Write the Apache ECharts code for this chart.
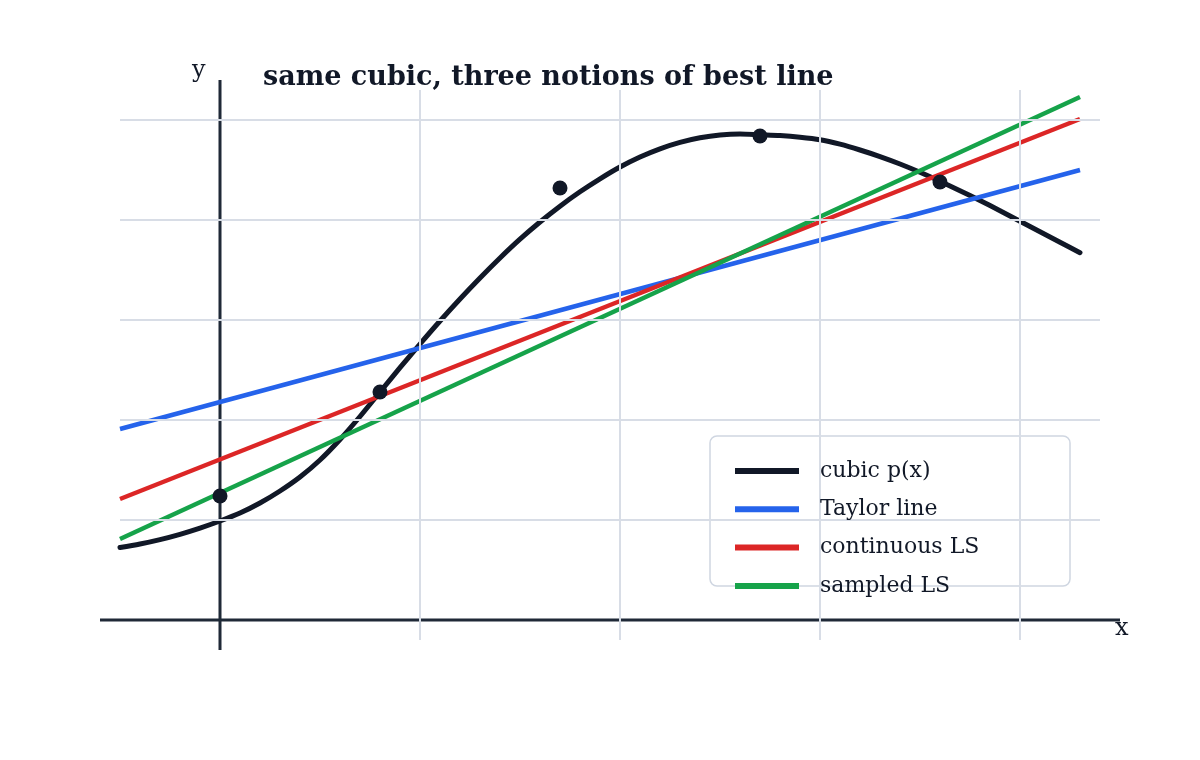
<!DOCTYPE html>
<html>
<head>
<meta charset="utf-8">
<script src="https://cdn.jsdelivr.net/npm/echarts@6/dist/echarts.min.js"></script>
<style>
html,body{margin:0;padding:0;background:#fff;}
#chart{width:1200px;height:760px;}
</style>
</head>
<body>
<div id="chart"></div>
<script>
// ---- data ----
const titleText = "same cubic, three notions of best line";
const seriesNames = ["cubic p(x)", "Taylor line", "continuous LS", "sampled LS"];
const cubicCurve = [
  [-0.5, 0.725], [-0.4, 0.76], [-0.3, 0.804], [-0.2, 0.857], [-0.1, 0.919],
  [0.0, 0.99], [0.1, 1.07], [0.2, 1.17], [0.3, 1.29], [0.4, 1.43],
  [0.5, 1.60], [0.6, 1.805], [0.7, 2.035], [0.8, 2.28], [0.9, 2.523],
  [1.0, 2.76], [1.1, 2.99], [1.2, 3.21], [1.3, 3.42], [1.4, 3.62],
  [1.5, 3.808], [1.6, 3.98], [1.7, 4.138], [1.8, 4.282], [1.9, 4.412],
  [2.0, 4.53], [2.1, 4.63], [2.2, 4.712], [2.3, 4.776], [2.4, 4.822],
  [2.5, 4.85], [2.6, 4.86], [2.7, 4.852], [2.8, 4.844], [2.9, 4.828],
  [3.0, 4.803], [3.1, 4.758], [3.2, 4.70], [3.3, 4.634], [3.4, 4.56],
  [3.5, 4.477], [3.6, 4.387], [3.7, 4.293], [3.8, 4.195], [3.9, 4.093],
  [4.0, 3.988], [4.1, 3.883], [4.2, 3.778], [4.3, 3.673]
];
const taylorLine = [[-0.5, 1.91], [4.3, 4.50]];
const continuousLS = [[-0.5, 1.21], [4.3, 5.01]];
const sampledLS = [[-0.5, 0.81], [4.3, 5.23]];
const samplePoints = [[0.0, 1.24], [0.8, 2.28], [1.7, 4.32], [2.7, 4.84], [3.6, 4.38]];
const gridXValues = [1, 2, 3, 4];
const gridYValues = [1, 2, 3, 4, 5];
const axisSegments = [[-0.6, 0, 4.5, 0], [0, -0.3, 0, 5.4]];
const xRange = [-0.5, 4.4];
const yRange = [-0.2, 5.3];

const colors = { cubic: "#111827", taylor: "#2563eb", cont: "#dc2626", samp: "#16a34a", axis: "#1f2937", grid: "#d8dde6", text: "#111827" };
const serif = "DejaVu Serif";

const chart = echarts.init(document.getElementById("chart"), null, { renderer: "canvas" });

const gridMarks = gridXValues.map(v => ({ xAxis: v })).concat(gridYValues.map(v => ({ yAxis: v })));

chart.setOption({
  animation: false,
  backgroundColor: "#ffffff",
  title: {
    text: titleText,
    left: 258, top: 59,
    textStyle: { fontFamily: serif, fontWeight: "bold", fontSize: 27, color: colors.text }
  },
  grid: { left: 120, right: 100, top: 90, bottom: 120, containLabel: false },
  xAxis: {
    type: "value", min: xRange[0], max: xRange[1],
    axisLine: { show: false }, axisTick: { show: false }, axisLabel: { show: false }, splitLine: { show: false }
  },
  yAxis: {
    type: "value", min: yRange[0], max: yRange[1],
    axisLine: { show: false }, axisTick: { show: false }, axisLabel: { show: false }, splitLine: { show: false }
  },
  legend: {
    data: seriesNames,
    orient: "vertical",
    left: 735, top: 458,
    padding: 0,
    itemGap: 12.3,
    itemWidth: 64, itemHeight: 6,
    icon: "rect",
    textStyle: { fontFamily: serif, fontSize: 22, color: colors.text, lineHeight: 26, padding: [0, 0, 0, 16] },
    z: 10
  },
  graphic: [
    { type: "rect", z: 5, zlevel: 0, silent: true,
      shape: { x: 710, y: 436, width: 360, height: 150, r: 7 },
      style: { fill: "#ffffff", stroke: "#cfd6e1", lineWidth: 1.5 } },
    { type: "text", z: 6, left: 192, top: 59,
      style: { text: "y", fontFamily: serif, fontSize: 24, fill: colors.text } },
    { type: "text", z: 6, left: 1115, top: 617,
      style: { text: "x", fontFamily: serif, fontSize: 24, fill: colors.text } }
  ],
  series: [
    {
      name: "gridlines", type: "line", data: [], z: 1, silent: true,
      markLine: {
        silent: true, symbol: "none", animation: false,
        label: { show: false },
        lineStyle: { color: colors.grid, width: 2, type: "solid" },
        data: gridMarks
      }
    },
    {
      name: "axes", type: "custom", data: axisSegments, clip: false, silent: true, z: 2,
      renderItem: function (params, api) {
        const p1 = api.coord([api.value(0), api.value(1)]);
        const p2 = api.coord([api.value(2), api.value(3)]);
        return {
          type: "line",
          shape: { x1: p1[0], y1: p1[1], x2: p2[0], y2: p2[1] },
          style: { stroke: colors.axis, lineWidth: 3 }
        };
      },
      encode: { x: [0, 2], y: [1, 3] }
    },
    {
      name: seriesNames[0], type: "line", data: cubicCurve, smooth: 0.3, symbol: "none",
      color: colors.cubic, lineStyle: { color: colors.cubic, width: 5, cap: "round", join: "round" }, z: 3
    },
    {
      name: seriesNames[1], type: "line", data: taylorLine, symbol: "none",
      color: colors.taylor, lineStyle: { color: colors.taylor, width: 4.5 }, z: 4
    },
    {
      name: seriesNames[2], type: "line", data: continuousLS, symbol: "none",
      color: colors.cont, lineStyle: { color: colors.cont, width: 4.5 }, z: 4
    },
    {
      name: seriesNames[3], type: "line", data: sampledLS, symbol: "none",
      color: colors.samp, lineStyle: { color: colors.samp, width: 4.5 }, z: 4
    },
    {
      name: "samples", type: "scatter", data: samplePoints, symbolSize: 15,
      itemStyle: { color: colors.cubic, opacity: 1 }, z: 6
    }
  ]
});
</script>
</body>
</html>
